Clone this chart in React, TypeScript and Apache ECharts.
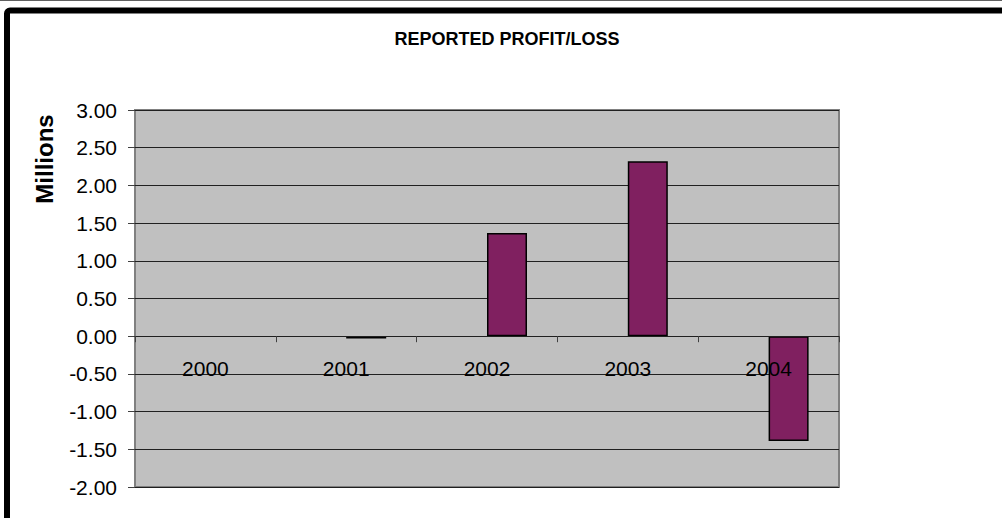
import React, { useEffect, useRef } from "react";
import * as echarts from "echarts";

const years = ["2000", "2001", "2002", "2003", "2004"];
const emptySeries: (number | null)[] = [null, null, null, null, null];
const profitLoss: (number | null)[] = [null, -0.03, 1.37, 2.32, -1.39];
const titleText = "REPORTED PROFIT/LOSS";
const yAxisTitle = "Millions";

const FONT = "'Liberation Sans', Arial, sans-serif";

export default function App() {
  const ref = useRef<HTMLDivElement>(null);
  useEffect(() => {
    if (!ref.current) return;
    const chart = echarts.init(ref.current, undefined, { renderer: "svg" });
    chart.setOption({
      animation: false,
      backgroundColor: "#ffffff",
      textStyle: { fontFamily: FONT },
      grid: {
        left: 135,
        top: 110,
        width: 704,
        height: 377,
        show: true,
        containLabel: false,
        outerBoundsMode: "none",
        backgroundColor: "#C0C0C0",
        borderColor: "#808080",
        borderWidth: 2,
      },
      xAxis: {
        type: "category",
        data: years,
        z: 5,
        axisLine: { show: true, onZero: true, lineStyle: { color: "#202020", width: 1 } },
        axisTick: { show: true, length: 6, inside: false, lineStyle: { color: "#404040" } },
        axisLabel: { color: "#000", fontSize: 21, fontFamily: FONT, margin: -129 },
        splitLine: { show: false },
      },
      yAxis: {
        type: "value",
        min: -2,
        max: 3,
        interval: 0.5,
        axisLine: { show: false },
        axisTick: { show: true, length: 7, lineStyle: { color: "#404040" } },
        axisLabel: {
          color: "#000",
          fontSize: 21,
          fontFamily: FONT,
          margin: 18,
          formatter: (v: number) => v.toFixed(2),
        },
        splitLine: { show: true, lineStyle: { color: "#202020", width: 1 } },
      },
      series: [
        {
          type: "bar",
          name: "empty",
          data: emptySeries,
          barWidth: 40,
          barGap: "0%",
          itemStyle: { color: "#802060", borderColor: "#000", borderWidth: 1.5 },
        },
        {
          type: "bar",
          name: "Profit/Loss",
          data: profitLoss,
          barWidth: 40,
          barGap: "0%",
          itemStyle: { color: "#802060", borderColor: "#000", borderWidth: 1.5 },
        },
      ],
      graphic: [
        {
          type: "line",
          shape: { x1: 0, y1: 0.5, x2: 1002, y2: 0.5 },
          style: { stroke: "#606060", lineWidth: 1 },
        },
        {
          type: "rect",
          shape: { x: 7, y: 10.5, width: 1100, height: 600, r: 3 },
          style: { fill: "none", stroke: "#000", lineWidth: 6 },
        },
        {
          type: "text",
          x: 507,
          y: 39,
          style: {
            text: titleText,
            font: `bold 18px ${FONT}`,
            fill: "#000",
            textAlign: "center",
            textVerticalAlign: "middle",
          },
        },
        {
          type: "text",
          x: 44,
          y: 159,
          rotation: Math.PI / 2,
          style: {
            text: yAxisTitle,
            font: `bold 24px ${FONT}`,
            fill: "#000",
            textAlign: "center",
            textVerticalAlign: "middle",
          },
        },
      ],
    });
    return () => chart.dispose();
  }, []);
  return (
    <div
      ref={ref}
      style={{ position: "fixed", left: 0, top: 0, width: 1002, height: 518 }}
    />
  );
}
